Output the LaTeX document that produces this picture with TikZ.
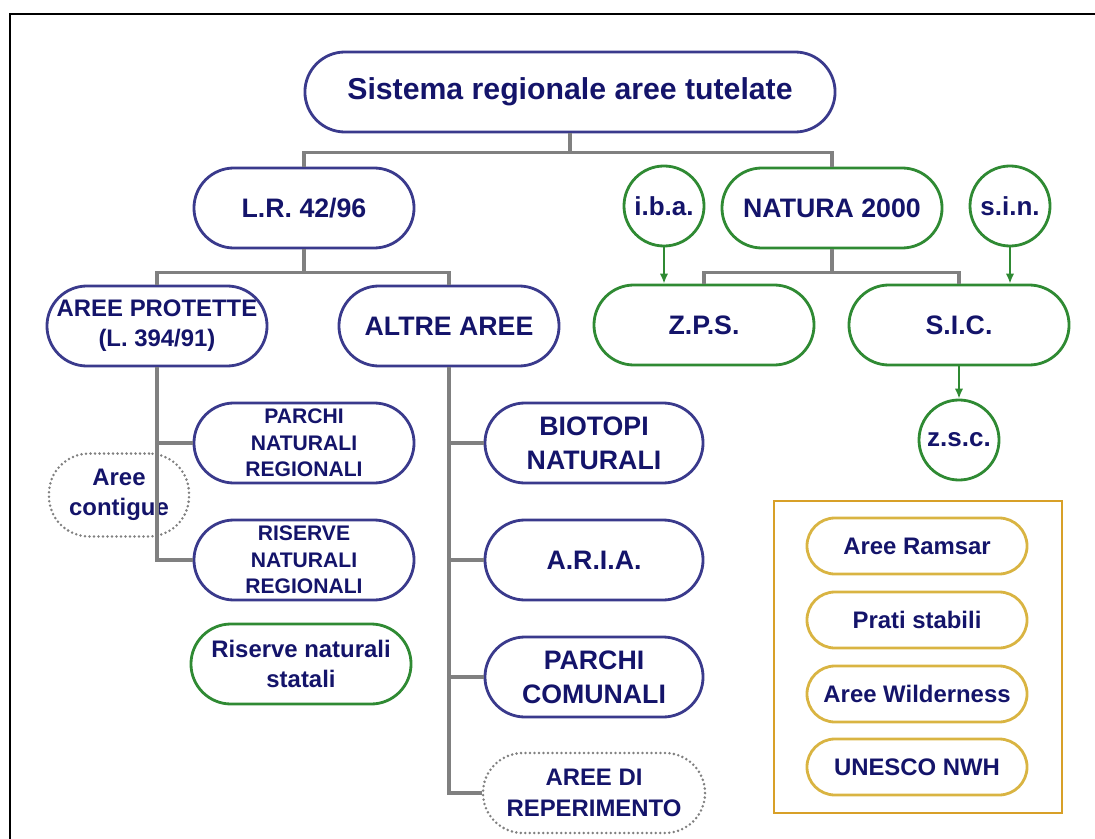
\documentclass[tikz,border=0pt]{standalone}
\usepackage{fontspec}
\setmainfont{Liberation Sans}
\usepackage{xcolor}
\usepackage{tikz}
\usetikzlibrary{arrows.meta}
\definecolor{Cnavy}{HTML}{14146A}
\definecolor{CB}{HTML}{3A3A8C}
\definecolor{CG}{HTML}{2F8A33}
\definecolor{CY}{HTML}{D8A028}
\definecolor{CL}{HTML}{D9B442}
\definecolor{CGr}{HTML}{808080}

\begin{document}
\begin{tikzpicture}[x=0.025cm,y=-0.025cm,text=Cnavy]
\tikzstyle{bbox}=[draw=CB,line width=2pt,rounded corners=1cm,minimum width=5.5cm,minimum height=2cm,inner sep=0pt,align=center,font=\fontsize{19}{24}\selectfont\bfseries]
\tikzstyle{gbox}=[bbox,draw=CG]
\tikzstyle{gcirc}=[draw=CG,line width=2pt,shape=circle,minimum size=2cm,inner sep=0pt,font=\fontsize{18.5}{22}\selectfont\bfseries]
\tikzstyle{dbox}=[bbox,draw=CGr,line width=2pt,dash pattern=on 0pt off 3.2pt,line cap=round]
\tikzstyle{ybox}=[bbox,draw=CL,minimum height=1.4cm,rounded corners=0.7cm,font=\fontsize{17}{21}\selectfont\bfseries]
\tikzstyle{small}=[font=\fontsize{15}{19}\selectfont\bfseries]
\tikzstyle{mid}=[font=\fontsize{17}{21.5}\selectfont\bfseries]
\tikzstyle{conn}=[draw=CGr,line width=2.4pt]
\tikzstyle{arr}=[draw=CG,line width=1.6pt,-{Latex[length=7pt,width=6pt]}]

\useasboundingbox (0,0) rectangle (1095,839);
\draw[line width=1.5pt] (10,839) -- (10,14) -- (1095,14);

\node[bbox,minimum width=13.25cm,font=\fontsize{21.5}{26}\selectfont\bfseries](sys) at (570,92){Sistema regionale aree tutelate};
%
\node[bbox](lr) at (304,208){L.R. 42/96};
\node[gbox](natura) at (832,208){NATURA 2000};
\node[gcirc](iba) at (664,206){i.b.a.};
\node[gcirc](sin) at (1010,206){s.i.n.};
%
\node[bbox,mid](prot) at (157,326){AREE PROTETTE\\(L. 394/91)};
\node[bbox](altre) at (449,326){ALTRE AREE};
\node[gbox](zps) at (704,325){Z.P.S.};
\node[gbox](sic) at (959,325){S.I.C.};
\node[gcirc](zsc) at (959,440){z.s.c.};
%
\node[bbox,small](parchi) at (304,443){PARCHI\\NATURALI\\REGIONALI};
\node[bbox,small](riserve) at (304,560){RISERVE\\NATURALI\\REGIONALI};
\node[gbox,mid](statali) at (301,664){Riserve naturali\\statali};
\node[dbox,mid,minimum width=3.5cm,minimum height=2.07cm](contigue) at (119,495){Aree\\contigue};
%
\node[bbox,minimum width=5.45cm](biotopi) at (594,443){BIOTOPI\\NATURALI};
\node[bbox,minimum width=5.45cm](aria) at (594,560){A.R.I.A.};
\node[bbox,minimum width=5.45cm](comunali) at (594,677){PARCHI\\COMUNALI};
\node[dbox,mid,minimum width=5.55cm](reperimento) at (594,793){AREE DI\\REPERIMENTO};
%
\node[draw=CY,line width=2pt,minimum width=7.2cm,minimum height=7.8cm](legend) at (918,657){};
\node[ybox](ramsar) at (917,546){Aree Ramsar};
\node[ybox](prati) at (917,620){Prati stabili};
\node[ybox](wild) at (917,694){Aree Wilderness};
\node[ybox](unesco) at (917,767){UNESCO NWH};
%
\draw[conn] (sys.south) -- ++(0,19) -| (lr.north);
\draw[conn] (sys.south) -- ++(0,19) -| (natura.north);
\draw[conn] (lr.south) -- ++(0,23) -| (prot.north);
\draw[conn] (lr.south) -- ++(0,23) -| (altre.north);
\draw[conn] (natura.south) -- ++(0,23) -| (zps.north);
\draw[conn] (natura.south) -- ++(0,23) -| (sic.north);
\draw[conn] (prot.south) |- (parchi.west);
\draw[conn] (prot.south) |- (riserve.west);
\draw[conn] (altre.south) |- (biotopi.west);
\draw[conn] (altre.south) |- (aria.west);
\draw[conn] (altre.south) |- (comunali.west);
\draw[conn] (altre.south) |- (reperimento.west);
%
\draw[arr] (iba.south) -- (iba.south |- zps.north);
\draw[arr] (sin.south) -- (sin.south |- sic.north);
\draw[arr] (sic.south) -- (zsc.north);
\end{tikzpicture}
\end{document}
